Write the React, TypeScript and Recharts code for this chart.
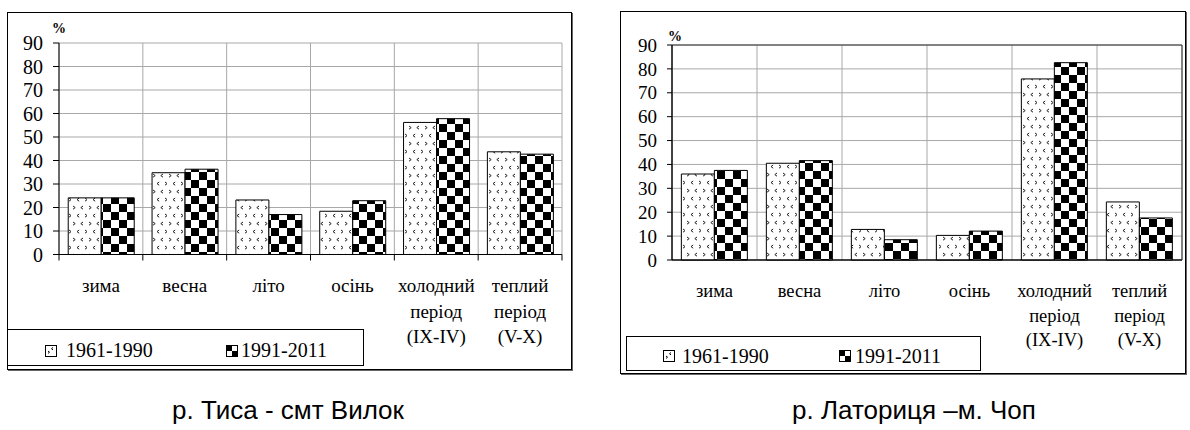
import React from 'react';
import { BarChart, Bar, XAxis, YAxis, CartesianGrid, ReferenceArea } from 'recharts';

// ---- data ----
const categories = ['зима', 'весна', 'літо', 'осінь', 'холодний\nперіод\n(IX-IV)', 'теплий\nперіод\n(V-X)'];
const seriesNames = ['1961-1990', '1991-2011'];
const tysaOld = [24.1, 34.8, 23.2, 18.4, 56.2, 43.7];
const tysaNew = [24.1, 36.3, 17.0, 22.9, 57.8, 42.7];
const latOld = [36.0, 40.5, 12.8, 10.3, 75.8, 24.3];
const latNew = [37.5, 41.6, 8.5, 12.1, 82.6, 17.6];
const yTicks = [0, 10, 20, 30, 40, 50, 60, 70, 80, 90];
const titles = ['р. Тиса - смт Вилок', 'р. Латориця –м. Чоп'];

const SERIF = 'Liberation Serif';
const SANS = 'Liberation Sans';
const GRID = '#a8a8a8';

const makeData = (a: number[], b: number[]) =>
  categories.map((c, i) => ({ cat: c, s1: a[i], s2: b[i] }));

const boundaryGen = (props: any) => {
  const n = categories.length;
  const { offset, xAxis } = props;
  const scale = xAxis && xAxis.scale;
  if (typeof scale === 'function' && typeof scale.bandwidth === 'function') {
    const bw = scale.bandwidth();
    const xs = categories.map((c) => scale(c));
    if (xs.every((v: any) => typeof v === 'number' && !isNaN(v))) return [...xs, xs[n - 1] + bw];
  }
  return Array.from({ length: n + 1 }, (_, i) => offset.left + (i * offset.width) / n);
};

function CategoryTick(props: any) {
  const { x, y, payload, index, visibleTicksCount, showMarks, firstDy, lineGap, fontSize } = props;
  const lines = String(payload.value).split('\n');
  const half = payload.offset || 0;
  return (
    <g>
      {showMarks && <line x1={x - half} x2={x - half} y1={y} y2={y + 6} stroke="#000" />}
      {showMarks && index === visibleTicksCount - 1 && (
        <line x1={x + half} x2={x + half} y1={y} y2={y + 6} stroke="#000" />
      )}
      {lines.map((l, i) => (
        <text
          key={i}
          x={x}
          y={y + firstDy + i * lineGap}
          textAnchor="middle"
          stroke="none"
          style={{ fontFamily: SERIF, fontSize, stroke: 'none' }}
          fill="#000"
        >
          {l}
        </text>
      ))}
    </g>
  );
}

function YTick(props: any) {
  const { x, y, payload, fontSize } = props;
  return (
    <text x={x} y={y} dy={fontSize * 0.35} textAnchor="end" stroke="none" style={{ fontFamily: SERIF, fontSize, stroke: 'none' }} fill="#000">
      {payload.value}
    </text>
  );
}

function PctLabel(props: any) {
  const { viewBox, dx, dy } = props;
  if (!viewBox) return null;
  return (
    <text
      x={viewBox.x + viewBox.width + dx}
      y={viewBox.y + dy}
      stroke="none"
      style={{ fontFamily: SERIF, fontWeight: 'bold', fontSize: 14, stroke: 'none' }}
      fill="#000"
    >
      %
    </text>
  );
}

type ChartProps = {
  id: string;
  data: any[];
  left: number;
  top: number;
  width: number;
  height: number;
  yWidth: number;
  margin: { top: number; right: number; left: number; bottom: number };
  xHeight: number;
  tickFont: number;
  catFont: number;
  firstDy: number;
  lineGap: number;
  showMarks: boolean;
  tickSize: number;
  pctDx: number;
  pctDy: number;
  darkBorder: boolean;
};

function Chart(p: ChartProps) {
  return (
    <div style={{ position: 'absolute', left: p.left, top: p.top }}>
      <BarChart width={p.width} height={p.height} data={p.data} margin={p.margin} barCategoryGap="11%" barGap={0}>
        <defs>
          <pattern id={`dots-${p.id}`} patternUnits="userSpaceOnUse" width="16" height="16">
            <rect width="16" height="16" fill="#fff" />
            <path
              d="M2 2 l2.2 1.6 l-2.2 1.6 M12 2 l-2.2 1.6 l2.2 1.6 M8.2 10 l-2.2 1.6 l2.2 1.6 M14 10 l2.2 1.6 l-2.2 1.6"
              stroke="#222"
              strokeWidth="1"
              fill="none"
            />
          </pattern>
          <pattern id={`check-${p.id}`} patternUnits="userSpaceOnUse" width="16" height="16">
            <rect width="16" height="16" fill="#fff" />
            <rect width="8" height="8" fill="#000" />
            <rect x="8" y="8" width="8" height="8" fill="#000" />
          </pattern>
        </defs>
        <CartesianGrid stroke={GRID} strokeWidth={1} verticalCoordinatesGenerator={boundaryGen} />
        <XAxis
          dataKey="cat"
          interval={0}
          height={p.xHeight}
          tickSize={0}
          tickMargin={0}
          tickLine={false}
          axisLine={{ stroke: '#000' }}
          tick={(tp: any) => (
            <CategoryTick
              {...tp}
              showMarks={p.showMarks}
              firstDy={p.firstDy}
              lineGap={p.lineGap}
              fontSize={p.catFont}
            />
          )}
        />
        <YAxis
          width={p.yWidth}
          domain={[0, 90]}
          ticks={yTicks}
          interval={0}
          tickSize={p.tickSize}
          tickMargin={10}
          axisLine={{ stroke: '#000' }}
          tickLine={{ stroke: '#000' }}
          tick={(tp: any) => <YTick {...tp} fontSize={p.tickFont} />}
          label={<PctLabel dx={p.pctDx} dy={p.pctDy} />}
        />
        <Bar dataKey="s1" name={seriesNames[0]} fill={`url(#dots-${p.id})`} stroke="#000" strokeWidth={1} isAnimationActive={false} />
        <Bar dataKey="s2" name={seriesNames[1]} fill={`url(#check-${p.id})`} stroke="#000" strokeWidth={1} isAnimationActive={false} />
        {p.darkBorder && (
          <ReferenceArea
            x1={categories[0]}
            x2={categories[categories.length - 1]}
            y1={0}
            y2={90}
            fill="none"
            fillOpacity={0}
            stroke="#333"
            strokeWidth={1}
            ifOverflow="visible"
          />
        )}
      </BarChart>
    </div>
  );
}

function LegendIcon1({ x, y }: { x: number; y: number }) {
  return (
    <g>
      <rect x={x + 0.5} y={y + 0.5} width={11} height={11} fill="#fff" stroke="#000" />
      <path d={`M${x + 3} ${y + 6} l1.5 1.2 l-1.5 1.2 M${x + 8} ${y + 2.5} l-1.5 1.2 l1.5 1.2`} stroke="#000" fill="none" strokeWidth={1} />
    </g>
  );
}
function LegendIcon2({ x, y }: { x: number; y: number }) {
  return (
    <g>
      <rect x={x + 0.5} y={y + 0.5} width={11} height={11} fill="#fff" stroke="#000" />
      <rect x={x + 0.5} y={y + 0.5} width={5.5} height={5.5} fill="#000" />
      <rect x={x + 6} y={y + 6} width={5.5} height={5.5} fill="#000" />
    </g>
  );
}

const legendText = { fontFamily: SERIF, fontSize: 20, stroke: 'none' };

function Overlay() {
  return (
    <svg width={1190} height={430} style={{ position: 'absolute', left: 0, top: 0 }}>
      {/* frames */}
      <rect x={7.5} y={12.5} width={564} height={357} fill="#fff" stroke="#000" />
      <line x1={8} x2={573} y1={370.5} y2={370.5} stroke="#666" />
      <line x1={572.5} x2={572.5} y1={13} y2={371} stroke="#666" />
      <rect x={620.5} y={11.5} width={565} height={362} fill="#fff" stroke="#000" />
      <line x1={621} x2={1187} y1={374.5} y2={374.5} stroke="#666" />
      <line x1={1186.5} x2={1186.5} y1={12} y2={375} stroke="#666" />
      {/* legends */}
      <rect x={7.5} y={329.5} width={356} height={36} fill="#fff" stroke="#000" />
      <LegendIcon1 x={45} y={345} />
      <text x={66} y={357} style={legendText} fill="#000">{seriesNames[0]}</text>
      <LegendIcon2 x={226} y={345} />
      <text x={241} y={357} style={legendText} fill="#000">{seriesNames[1]}</text>

      <rect x={626.5} y={336.5} width={354} height={34} fill="#fff" stroke="#000" />
      <LegendIcon1 x={663} y={350} />
      <text x={682} y={362.5} style={legendText} fill="#000">{seriesNames[0]}</text>
      <LegendIcon2 x={839} y={350} />
      <text x={855} y={362.5} style={legendText} fill="#000">{seriesNames[1]}</text>
      {/* titles */}
      <text x={288} y={419} textAnchor="middle" style={{ fontFamily: SANS, fontSize: 26 }} fill="#000">{titles[0]}</text>
      <text x={914} y={419} textAnchor="middle" style={{ fontFamily: SANS, fontSize: 26 }} fill="#000">{titles[1]}</text>
    </svg>
  );
}

export default function App() {
  return (
    <div style={{ position: 'absolute', left: 0, top: 0, width: 1190, height: 430, background: '#fff', overflow: 'hidden' }}>
      <Overlay />
      <Chart
        id="a"
        data={makeData(tysaOld, tysaNew)}
        left={7}
        top={12}
        width={565}
        height={358}
        yWidth={52}
        margin={{ top: 31, right: 10, left: 0, bottom: 0 }}
        xHeight={115.5}
        tickFont={20}
        catFont={19}
        firstDy={37.5}
        lineGap={25.5}
        showMarks={true}
        tickSize={6}
        pctDx={-7}
        pctDy={-10}
        darkBorder={false}
      />
      <Chart
        id="b"
        data={makeData(latOld, latNew)}
        left={621}
        top={11}
        width={565}
        height={363}
        yWidth={51}
        margin={{ top: 34, right: 4, left: 0, bottom: 0 }}
        xHeight={114}
        tickFont={19}
        catFont={18.5}
        firstDy={37}
        lineGap={24.5}
        showMarks={false}
        tickSize={5}
        pctDx={-4}
        pctDy={-4}
        darkBorder={true}
      />
    </div>
  );
}
